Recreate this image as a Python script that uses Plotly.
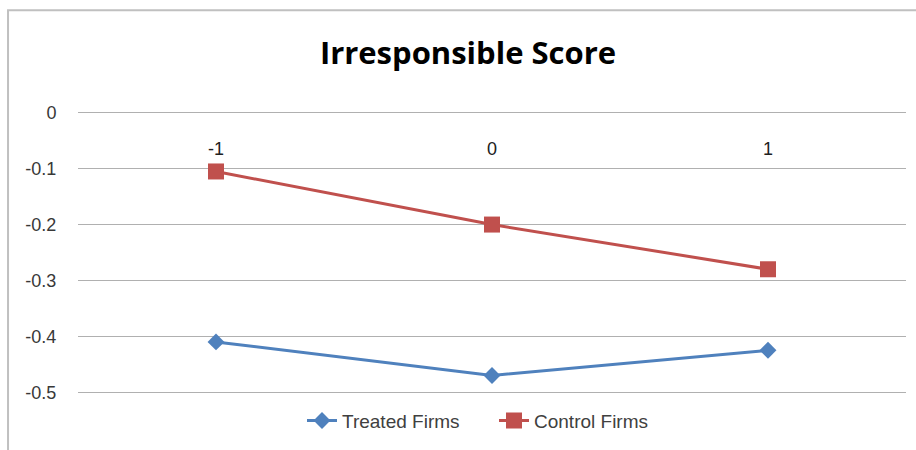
import plotly.graph_objects as go

periods = ["-1", "0", "1"]
treated = [-0.41, -0.47, -0.425]
control = [-0.105, -0.2, -0.28]
y_ticks = [0, -0.1, -0.2, -0.3, -0.4, -0.5]
y_tick_labels = ["0", "-0.1", "-0.2", "-0.3", "-0.4", "-0.5"]

fig = go.Figure()
fig.add_trace(go.Scatter(
    x=periods, y=treated, name="Treated Firms", mode="lines+markers",
    line=dict(color="#4f81bd", width=3),
    marker=dict(symbol="diamond", size=13, color="#4f81bd"),
))
fig.add_trace(go.Scatter(
    x=periods, y=control, name="Control Firms", mode="lines+markers",
    line=dict(color="#c0504d", width=3),
    marker=dict(symbol="square", size=16, color="#c0504d"),
))

font_family = "Liberation Sans"
fig.update_layout(
    width=916, height=450,
    margin=dict(l=78, r=10, t=110, b=53),
    paper_bgcolor="white", plot_bgcolor="white",
    title=dict(text="<b>Irresponsible Score</b>", x=468 / 916, xanchor="center",
               y=1 - 53 / 450, yanchor="middle", yref="container",
               font=dict(family="Open Sans", size=31, color="#000000")),
    showlegend=True,
    legend=dict(orientation="h", x=(302 - 78) / 828, xanchor="left", y=-0.09, yanchor="middle",
                font=dict(family=font_family, size=19, color="#404040"),
                entrywidth=147, entrywidthmode="pixels",
                bgcolor="rgba(0,0,0,0)"),
    font=dict(family=font_family, size=18, color="#404040"),
)
fig.update_xaxes(
    type="category", range=[-0.5, 2.5], side="bottom",
    anchor="free", position=0.908,
    ticks="", showgrid=False, showline=False, zeroline=False,
    tickfont=dict(family=font_family, size=18, color="#202020"),
)
fig.update_yaxes(
    range=[-0.505, 0.005], tickvals=y_ticks, ticktext=y_tick_labels,
    showgrid=True, gridcolor="#b0b0b0", gridwidth=1, zeroline=False,
    showline=False, ticks="outside", ticklen=17, tickcolor="rgba(0,0,0,0)",
    tickfont=dict(family=font_family, size=18, color="#383838"),
)
fig.add_shape(type="rect", xref="paper", yref="paper",
              x0=-0.0845, x1=1.1, y0=-0.3, y1=1.35,
              line=dict(color="#c0c0c0", width=2), fillcolor="rgba(0,0,0,0)", layer="below")

fig.write_html("out.html")
